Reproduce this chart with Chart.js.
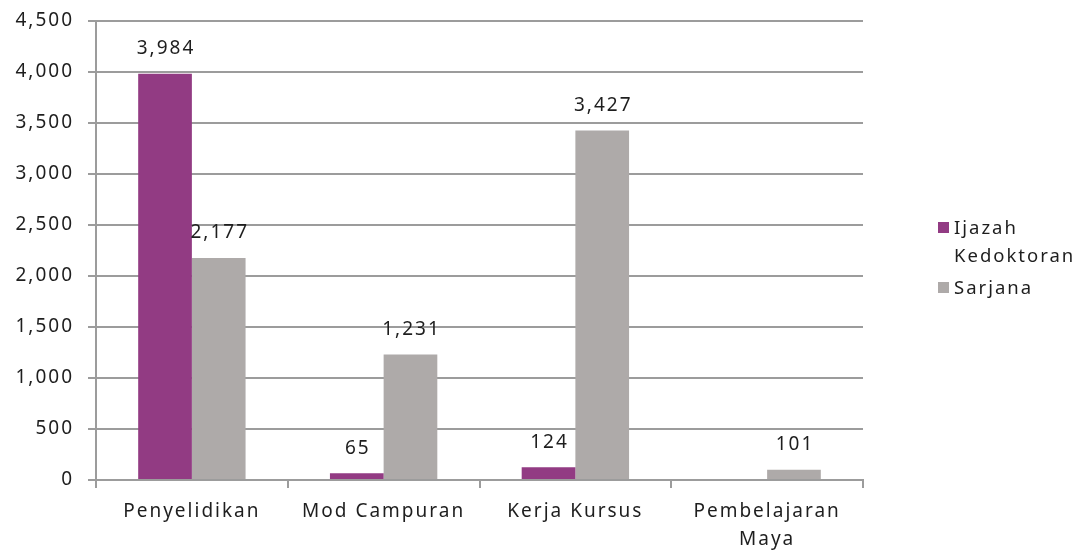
<!DOCTYPE html>
<html>
<head>
    <meta charset="utf-8">
    <script src="https://cdn.jsdelivr.net/npm/chart.js@4.4.1/dist/chart.umd.min.js"></script>
    <style>
        body {
            margin: 0;
            background: #fff;
            font-family: "Noto Sans", sans-serif;
        }
        #wrap {
            position: relative;
            width: 1086px;
            height: 552px;
        }
        #legend {
            position: absolute;
            left: 938px;
            top: 213px;
            font-size: 18.5px;
            letter-spacing: 2px;
            color: #1e1e1e;
            line-height: 28px;
        }
        .item {
            display: flex;
            align-items: flex-start;
            margin-bottom: 4px;
        }
        .box {
            width: 11px;
            height: 11px;
            margin-top: 9px;
            margin-right: 5px;
            flex: none;
        }
    </style>
</head>
<body>
<div id="wrap">
    <canvas id="chart" width="1086" height="552"></canvas>
    <div id="legend"></div>
</div>

<script>
    // data
    const categories = ['Penyelidikan', 'Mod Campuran', 'Kerja Kursus', ['Pembelajaran', 'Maya']];
    const seriesNames = [['Ijazah', 'Kedoktoran'], ['Sarjana']];
    const ijazahKedoktoran = [3984, 65, 124, null];
    const sarjana = [2177, 1231, 3427, 101];
    const colors = ['#923B83', '#AEAAA9'];

    const textColor = '#1e1e1e';
    const gridColor = '#9C9C9C';
    const spacing = '2px';

    // letter spacing for all canvas text
    const spacingPlugin = {
        id: 'spacing',
        beforeUpdate(chart) { chart.ctx.letterSpacing = spacing; },
        beforeDraw(chart) { chart.ctx.letterSpacing = spacing; }
    };

    // value labels above bars
    const valueLabels = {
        id: 'valueLabels',
        afterDatasetsDraw(chart) {
            const ctx = chart.ctx;
            ctx.save();
            ctx.letterSpacing = spacing;
            ctx.font = '19px "Noto Sans", sans-serif';
            ctx.fillStyle = textColor;
            ctx.textAlign = 'center';
            ctx.textBaseline = 'middle';
            chart.data.datasets.forEach((ds, i) => {
                chart.getDatasetMeta(i).data.forEach((bar, j) => {
                    const v = ds.data[j];
                    if (v === null || v === undefined) return;
                    ctx.fillText(v.toLocaleString('en-US'), bar.x + 1, bar.y - 25);
                });
            });
            ctx.restore();
        }
    };

    Chart.defaults.font.family = '"Noto Sans", sans-serif';
    Chart.defaults.font.size = 19;
    Chart.defaults.color = textColor;

    const chart = new Chart(document.getElementById('chart'), {
        type: 'bar',
        data: {
            labels: categories,
            datasets: [
                { label: seriesNames[0].join(' '), data: ijazahKedoktoran, backgroundColor: colors[0] },
                { label: seriesNames[1].join(' '), data: sarjana, backgroundColor: colors[1] }
            ]
        },
        options: {
            responsive: false,
            animation: false,
            categoryPercentage: 0.56,
            barPercentage: 1,
            layout: { padding: { top: 21, right: 223, left: 0, bottom: 0 } },
            plugins: {
                legend: { display: false },
                tooltip: { enabled: false }
            },
            scales: {
                x: {
                    grid: {
                        display: true,
                        drawOnChartArea: false,
                        drawTicks: true,
                        tickLength: 8,
                        color: gridColor,
                        lineWidth: 2
                    },
                    border: { display: true, color: gridColor, width: 2 },
                    ticks: { maxRotation: 0, autoSkip: false, padding: 10, font: { lineHeight: 1.45 } },
                    afterFit(scale) { scale.height = 72; }
                },
                y: {
                    min: 0,
                    max: 4500,
                    ticks: { stepSize: 500, padding: 14 },
                    grid: { color: gridColor, lineWidth: 2, tickLength: 8 },
                    border: { display: true, color: gridColor, width: 2 },
                    afterFit(scale) {
                        scale.width = 96;
                        scale.paddingTop = 0;
                        scale.paddingBottom = 0;
                    }
                }
            }
        },
        plugins: [spacingPlugin, valueLabels]
    });

    // legend on the right, built from the series arrays
    const legend = document.getElementById('legend');
    seriesNames.forEach((name, i) => {
        const item = document.createElement('div');
        item.className = 'item';
        item.innerHTML = '<div class="box" style="background:' + colors[i] + '"></div><div>' + name.join('<br>') + '</div>';
        legend.appendChild(item);
    });
</script>
</body>
</html>
